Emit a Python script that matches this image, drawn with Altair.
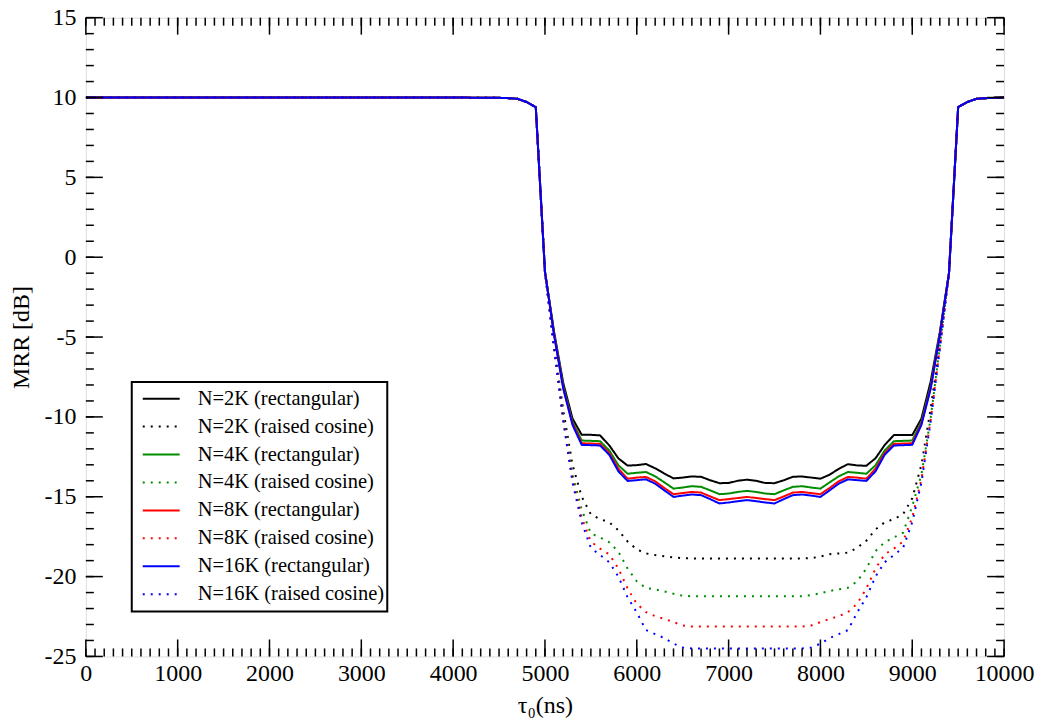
import altair as alt
import pandas as pd

# --- x samples (ns) ---
tau_ns = [0, 1000, 2000, 3000, 4000, 4500, 4600, 4700, 4800,
          4900, 5000, 5100, 5200, 5300, 5400, 5500, 5600, 5700, 5800, 5900,
          6000, 6100, 6200, 6300, 6400, 6500, 6600, 6700, 6800, 6900,
          7000, 7100, 7200, 7300, 7400, 7500, 7600, 7700, 7800, 7900,
          8000, 8100, 8200, 8300, 8400, 8500, 8600, 8700, 8800, 8900,
          9000, 9100, 9200, 9300, 9400, 9500,
          9600, 9700, 9800, 9900, 10000]

# common plateau before / after the window (all curves coincide there)
lead = [10, 10, 10, 10, 10, 9.98, 9.96, 9.92, 9.72]
tail = [9.72, 9.92, 9.96, 9.98, 10]

# 4900 ... 9500 ns
rect_2k = [9.4, -0.9, -4.7, -7.9, -10.1, -11.12, -11.12, -11.16, -11.78, -12.6, -13.05,
           -13.02, -12.95, -13.22, -13.55, -13.85, -13.8, -13.73, -13.75, -13.97, -14.15,
           -14.14, -14.0, -13.93, -14.0, -14.14, -14.15, -13.97, -13.75, -13.73, -13.8,
           -13.87, -13.62, -13.25, -12.96, -13.04, -13.06, -12.59, -11.76, -11.14, -11.14,
           -11.14, -10.1, -7.8, -4.7, -1.0, 9.4]
rc_2k = [9.4, -0.9, -5.5, -9.6, -13.0, -15.0, -16.1, -16.4, -16.6, -17.1, -17.8,
         -18.3, -18.55, -18.65, -18.72, -18.8, -18.84, -18.87, -18.87, -18.87, -18.87,
         -18.87, -18.87, -18.87, -18.87, -18.87, -18.87, -18.87, -18.87, -18.87, -18.84,
         -18.75, -18.6, -18.55, -18.5, -18.2, -17.75, -17.05, -16.6, -16.4, -16.1,
         -15.1, -13.0, -9.5, -5.5, -1.0, 9.4]
rect_4k = [9.4, -0.9, -4.8, -8.1, -10.3, -11.48, -11.5, -11.52, -12.1, -13.03, -13.56,
           -13.5, -13.45, -13.72, -14.1, -14.49, -14.42, -14.34, -14.38, -14.6, -14.84,
           -14.8, -14.7, -14.63, -14.7, -14.8, -14.84, -14.6, -14.38, -14.34, -14.42,
           -14.49, -14.1, -13.72, -13.45, -13.5, -13.56, -13.03, -12.1, -11.52, -11.5,
           -11.48, -10.3, -8.1, -4.8, -1.0, 9.4]
rc_4k = [9.4, -0.9, -5.6, -10.0, -13.6, -15.8, -17.3, -17.55, -17.85, -18.45, -19.5,
         -20.3, -20.72, -20.8, -20.93, -21.07, -21.2, -21.23, -21.23, -21.23, -21.23,
         -21.23, -21.23, -21.23, -21.23, -21.23, -21.23, -21.23, -21.23, -21.23, -21.15,
         -21.05, -20.9, -20.8, -20.7, -20.3, -19.5, -18.4, -17.85, -17.55, -17.25,
         -15.6, -13.6, -10.1, -5.6, -1.0, 9.4]
rect_8k = [9.4, -0.9, -4.85, -8.2, -10.4, -11.65, -11.67, -11.69, -12.27, -13.25, -13.87,
           -13.8, -13.76, -14.03, -14.45, -14.84, -14.77, -14.7, -14.74, -14.98, -15.21,
           -15.15, -15.08, -15.01, -15.08, -15.15, -15.21, -14.98, -14.74, -14.7, -14.77,
           -14.84, -14.45, -14.03, -13.76, -13.8, -13.87, -13.25, -12.27, -11.69, -11.67,
           -11.65, -10.4, -8.2, -4.85, -1.0, 9.4]
rc_8k = [9.4, -0.9, -5.7, -10.2, -13.9, -16.3, -17.8, -18.25, -18.6, -19.5, -20.75,
         -21.7, -22.22, -22.48, -22.65, -22.85, -23.06, -23.13, -23.13, -23.13, -23.13,
         -23.13, -23.13, -23.13, -23.13, -23.13, -23.13, -23.13, -23.13, -23.13, -23.06,
         -22.85, -22.65, -22.48, -22.22, -21.7, -20.75, -19.5, -18.6, -18.25, -17.8,
         -16.3, -13.9, -10.2, -5.7, -1.0, 9.4]
rect_16k = [9.4, -0.9, -4.9, -8.25, -10.5, -11.75, -11.77, -11.79, -12.37, -13.41, -14.01,
            -13.96, -13.91, -14.18, -14.6, -15.01, -14.93, -14.86, -14.9, -15.15, -15.42,
            -15.36, -15.28, -15.21, -15.28, -15.36, -15.42, -15.15, -14.9, -14.86, -14.93,
            -15.01, -14.6, -14.18, -13.91, -13.96, -14.01, -13.41, -12.37, -11.79, -11.77,
            -11.75, -10.5, -8.25, -4.9, -1.0, 9.4]
rc_16k = [9.4, -0.9, -5.8, -10.3, -14.1, -16.6, -18.2, -18.65, -19.1, -20.0, -21.3,
          -22.25, -23.35, -23.6, -23.85, -24.2, -24.44, -24.5, -24.5, -24.5, -24.5,
          -24.5, -24.5, -24.5, -24.5, -24.5, -24.5, -24.5, -24.5, -24.5, -24.44,
          -24.2, -23.85, -23.6, -23.35, -22.25, -21.3, -20.0, -19.1, -18.65, -18.2,
          -16.6, -14.1, -10.3, -5.8, -1.0, 9.4]

labels = ["N=2K (rectangular)", "N=2K (raised cosine)",
          "N=4K (rectangular)", "N=4K (raised cosine)",
          "N=8K (rectangular)", "N=8K (raised cosine)",
          "N=16K (rectangular)", "N=16K (raised cosine)"]
series_vals = [rect_2k, rc_2k, rect_4k, rc_4k, rect_8k, rc_8k, rect_16k, rc_16k]
colors = ["#000000", "#000000", "#008c00", "#008c00",
          "#ff0000", "#ff0000", "#0000ff", "#0000ff"]
dashes = [[1, 0], [2, 6], [1, 0], [2, 6], [1, 0], [2, 6], [1, 0], [2, 6]]

x_major = [0, 1000, 2000, 3000, 4000, 5000, 6000, 7000, 8000, 9000, 10000]
x_minor = list(range(0, 10001, 100))
y_major = [-25, -20, -15, -10, -5, 0, 5, 10, 15]
y_minor = list(range(-25, 16, 1))

rows = []
for lab, mid in zip(labels, series_vals):
    ys = lead + mid + tail
    for t, v in zip(tau_ns, ys):
        rows.append({"tau": t, "mrr": v, "series": lab})
df = pd.DataFrame(rows)

W, H = 920, 640
FONT = "Liberation Serif"
MAJ, MIN = 17, 8
LBL = "replace(format(datum.value, 'd'), '\u2212', '-')"

xs = alt.Scale(domain=[0, 10000], nice=False, zero=False)
ys_ = alt.Scale(domain=[-25, 15], nice=False, zero=False)

x_axis = alt.Axis(values=x_major, title="τ₀(ns)", ticks=False, tickSize=0,
                  domain=False, grid=False, labelFont=FONT, labelFontSize=24,
                  labelColor="black", labelPadding=5, titleFont=FONT,
                  titleFontSize=24, titleFontWeight="normal", titleColor="black",
                  titlePadding=8, labelExpr=LBL, labelFlush=False)
y_axis = alt.Axis(values=y_major, title="MRR [dB]", ticks=False, tickSize=0,
                  domain=False, grid=False, labelFont=FONT, labelFontSize=24,
                  labelColor="black", labelPadding=10, titleFont=FONT,
                  titleFontSize=24, titleFontWeight="normal", titleColor="black",
                  titlePadding=10, labelExpr=LBL, labelFlush=False)

leg = alt.Legend(orient="none", legendX=46, legendY=365, title=None,
                 symbolType="stroke", symbolSize=1369, symbolStrokeWidth=2,
                 symbolOffset=7, clipHeight=27.4,
                 labelFont=FONT, labelFontSize=20.5, labelColor="black",
                 labelOffset=17, rowPadding=0, padding=3, labelLimit=400,
                 strokeColor="black", fillColor="white")

lines = alt.Chart(df).mark_line(strokeWidth=2, clip=True).encode(
    x=alt.X("tau:Q", scale=xs, axis=x_axis),
    y=alt.Y("mrr:Q", scale=ys_, axis=y_axis),
    color=alt.Color("series:N", scale=alt.Scale(domain=labels, range=colors), legend=leg),
    strokeDash=alt.StrokeDash("series:N", scale=alt.Scale(domain=labels, range=dashes), legend=leg),
)

def xticks(vals, length, top):
    d = pd.DataFrame({"t": vals})
    if top:
        y0, y1 = 0, length
    else:
        y0, y1 = H, H - length
    return alt.Chart(d).mark_rule(color="black", strokeWidth=1.5).encode(
        x=alt.X("t:Q", scale=xs, axis=x_axis), y=alt.value(y0), y2=alt.value(y1))

def yticks(vals, length, right):
    d = pd.DataFrame({"t": vals})
    if right:
        x0, x1 = W, W - length
    else:
        x0, x1 = 0, length
    return alt.Chart(d).mark_rule(color="black", strokeWidth=1.5).encode(
        y=alt.Y("t:Q", scale=ys_, axis=y_axis), x=alt.value(x0), x2=alt.value(x1))

chart = alt.layer(
    lines,
    xticks(x_minor, MIN, False), xticks(x_minor, MIN, True),
    xticks(x_major, MAJ, False), xticks(x_major, MAJ, True),
    yticks(y_minor, MIN, False), yticks(y_minor, MIN, True),
    yticks(y_major, MAJ, False), yticks(y_major, MAJ, True),
).properties(
    width=W, height=H,
    autosize=alt.AutoSizeParams(type="none"),
    padding={"left": 78, "top": 9, "right": 38, "bottom": 66},
).configure_view(stroke="black", strokeWidth=2).configure(background="white")

try:
    c2 = chart.configure_legend(strokeWidth=2)
    c2.to_dict()
    chart = c2
except Exception:
    pass

chart.save("out.html", embed_options={"renderer": "svg", "actions": False})
